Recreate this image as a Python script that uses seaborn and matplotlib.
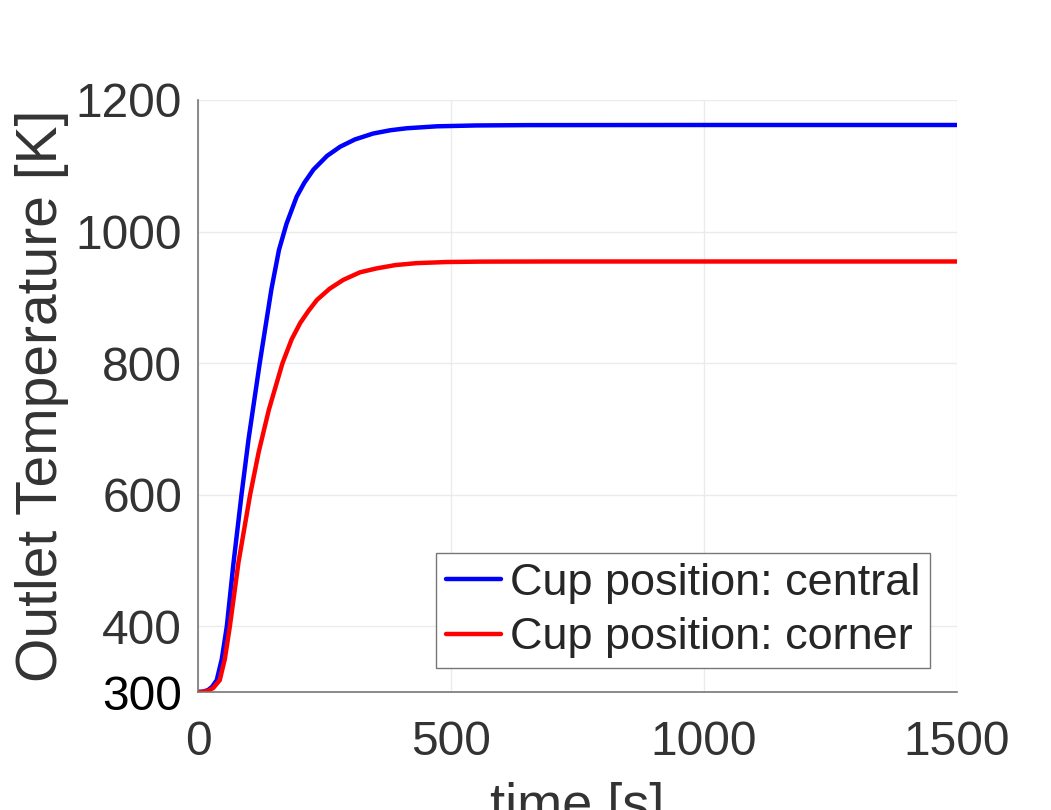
import numpy as np
import pandas as pd
import matplotlib
matplotlib.use("Agg")
import matplotlib.pyplot as plt
import seaborn as sns

# ---- data ----
t_central = [0, 10, 20, 28, 37, 47, 57, 70, 86, 100, 122, 145, 160, 175, 195, 210, 228,
             255, 281, 310, 346, 380, 412, 472, 550, 650, 1000, 1500]
T_central = [300, 300.5, 303, 308, 318, 350, 400, 495, 600, 685, 800, 912, 972, 1012,
             1053, 1074, 1094, 1115, 1129, 1140, 1149, 1154, 1157, 1160, 1161.3, 1161.8,
             1162, 1162]
t_corner = [0, 10, 20, 30, 43, 53, 63, 80, 103, 120, 140, 167, 185, 202, 218, 235, 260,
            287, 320, 353, 390, 432, 492, 560, 700, 1000, 1500]
T_corner = [300, 300.3, 302, 306, 318, 350, 400, 497, 600, 665, 729, 800, 836, 861, 879,
            896, 913, 926.5, 938, 944, 949, 952, 953.7, 954.3, 954.5, 954.5, 954.5]
labels = ["Cup position: central", "Cup position: corner"]
colors = ["#0000ff", "#ff0000"]
x_ticks = [0, 500, 1000, 1500]
y_ticks = [300, 400, 600, 800, 1000, 1200]

df = pd.concat([
    pd.DataFrame({"time": t_central, "T": T_central, "series": labels[0]}),
    pd.DataFrame({"time": t_corner, "T": T_corner, "series": labels[1]}),
])

sns.set_theme(style="whitegrid")
plt.rcParams["font.family"] = ["Liberation Sans", "DejaVu Sans"]

fig = plt.figure(figsize=(10.51, 8.10), dpi=100)
ax = fig.add_axes([198 / 1051, 1 - 692 / 810, (957 - 198) / 1051, (692 - 100) / 810])

sns.lineplot(data=df, x="time", y="T", hue="series", palette=dict(zip(labels, colors)),
             linewidth=3.2, ax=ax, sort=True, estimator=None)
for ln in ax.get_lines():
    ln.set_solid_joinstyle("round")
    ln.set_solid_capstyle("round")

ax.set_xlim(0, 1500)
ax.set_ylim(300, 1200)
ax.set_xticks(x_ticks)
ax.set_yticks(y_ticks)
ax.grid(True, color="#ebebeb", linewidth=1.0)
ax.set_facecolor("white")
for s in ["top", "right"]:
    ax.spines[s].set_visible(False)
for s in ["left", "bottom"]:
    ax.spines[s].set_visible(True)
    ax.spines[s].set_color("#777777")
    ax.spines[s].set_linewidth(1.2)

ax.tick_params(axis="both", direction="in", length=7, width=1, color="#777777",
               labelsize=34.5, labelcolor="#333333")
ax.tick_params(axis="y", pad=11.5)
ax.tick_params(axis="x", pad=20)
for lab in ax.get_yticklabels():
    if lab.get_text() == "300":
        lab.set_color("black")

ax.set_xlabel("time [s]", fontsize=39, color="#333333")
ax.set_ylabel("Outlet Temperature [K]", fontsize=41, color="#333333")
ax.xaxis.set_label_coords(0.5, -0.152)
ax.yaxis.set_label_coords(-0.17, 0.5)

leg = ax.legend(loc="upper right", bbox_to_anchor=(0.9644, 0.2348), borderaxespad=0,
                fontsize=32.5, frameon=True, fancybox=False, framealpha=1,
                edgecolor="#777777", handlelength=1.22, handletextpad=0.2,
                labelspacing=0.3, borderpad=0.22, title=None)
leg.get_frame().set_linewidth(1.0)
for line in leg.get_lines():
    line.set_linewidth(3.2)

fig.savefig("out.png", dpi=100, facecolor="white")
